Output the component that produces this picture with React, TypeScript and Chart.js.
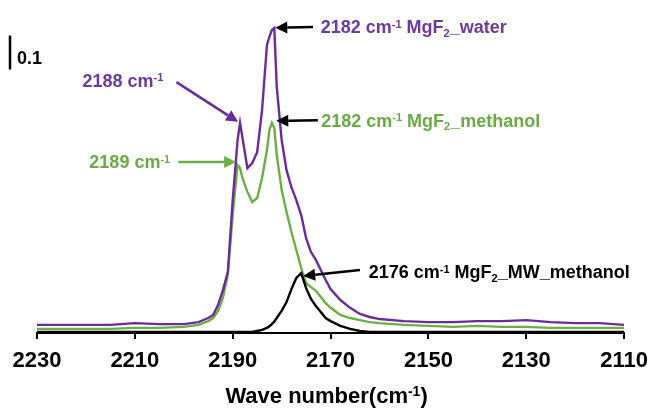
import { useEffect, useRef } from "react";
import { Chart, registerables } from "chart.js";

Chart.register(...registerables);

// ---------- data ----------
const waveNumbers = [
  2230, 2225, 2220, 2215, 2210, 2205, 2200, 2197, 2195, 2194, 2193, 2192, 2191, 2190,
  2189, 2188.5, 2188, 2187, 2186, 2185, 2184, 2183, 2182.5, 2182, 2181.5, 2181, 2180,
  2179, 2178, 2177, 2176, 2175, 2174, 2173, 2172, 2171, 2170, 2168, 2166, 2164, 2162,
  2160, 2155, 2150, 2145, 2140, 2135, 2130, 2125, 2120, 2115, 2110,
];

const mgf2Water = [
  0.024, 0.024, 0.024, 0.024, 0.029, 0.026, 0.026, 0.032, 0.044, 0.053, 0.082, 0.126, 0.179, 0.391,
  0.568, 0.618, 0.574, 0.485, 0.5, 0.532, 0.656, 0.847, 0.871, 0.891, 0.897, 0.724, 0.568,
  0.479, 0.429, 0.391, 0.347, 0.279, 0.238, 0.215, 0.185, 0.156, 0.129, 0.097, 0.074, 0.056, 0.047,
  0.041, 0.035, 0.032, 0.032, 0.035, 0.035, 0.038, 0.032, 0.029, 0.029, 0.024,
];

const mgf2Methanol = [
  0.012, 0.012, 0.012, 0.012, 0.015, 0.015, 0.018, 0.024, 0.035, 0.044, 0.065, 0.103, 0.171, 0.347,
  0.494, 0.485, 0.456, 0.415, 0.385, 0.397, 0.456, 0.538, 0.597, 0.618, 0.603, 0.524, 0.421,
  0.356, 0.297, 0.244, 0.191, 0.147, 0.135, 0.124, 0.106, 0.088, 0.074, 0.053, 0.044, 0.038, 0.032,
  0.029, 0.024, 0.021, 0.018, 0.021, 0.018, 0.018, 0.015, 0.015, 0.015, 0.015,
];

const mgf2MwMethanol = [
  0.003, 0.003, 0.003, 0.003, 0.003, 0.003, 0.003, 0.003, 0.003, 0.003, 0.003, 0.003, 0.003, 0.003,
  0.003, 0.003, 0.003, 0.003, 0.003, 0.006, 0.009, 0.015, 0.02, 0.026, 0.034, 0.044, 0.065,
  0.091, 0.129, 0.162, 0.176, 0.132, 0.1, 0.079, 0.062, 0.044, 0.035, 0.021, 0.012, 0.006, 0.003,
  0.003, 0.003, 0.003, 0.003, 0.003, 0.003, 0.003, 0.003, 0.003, 0.003, 0.003,
];

const xTicks = [2230, 2210, 2190, 2170, 2150, 2130, 2110];
const xMin = 2110;
const xMax = 2230;
const yMin = 0;
const yMax = 0.95;
const scaleBarBase = 0.775;
const scaleBarLength = 0.1;
const scaleBarLabel = "0.1";

// ---------- styles ----------
const FONT = '"Liberation Sans", Arial, Helvetica, sans-serif';
const PURPLE = "#6a2c9b";
const PURPLE_TEXT = "#6c3a9f";
const GREEN = "#6caf43";
const GREEN_TEXT = "#6aab46";
const BLACK = "#000000";

type Seg = { t: string; k?: "sup" | "sub" };

type Annotation = {
  segs: Seg[];
  textColor: string;
  arrowColor: string;
  tail: [number, number];
  tip: [number, number];
  text: [number, number];
};

const annotations: Annotation[] = [
  {
    segs: [{ t: "2182 cm" }, { t: "-1", k: "sup" }, { t: " MgF" }, { t: "2", k: "sub" }, { t: "_water" }],
    textColor: PURPLE_TEXT,
    arrowColor: BLACK,
    tail: [2173.6, 0.9],
    tip: [2181.3, 0.898],
    text: [2172.0, 0.9],
  },
  {
    segs: [{ t: "2182 cm" }, { t: "-1", k: "sup" }, { t: " MgF" }, { t: "2", k: "sub" }, { t: "_methanol" }],
    textColor: GREEN_TEXT,
    arrowColor: BLACK,
    tail: [2172.6, 0.626],
    tip: [2181.1, 0.624],
    text: [2171.9, 0.626],
  },
  {
    segs: [{ t: "2188 cm" }, { t: "-1", k: "sup" }],
    textColor: PURPLE_TEXT,
    arrowColor: PURPLE,
    tail: [2201.5, 0.738],
    tip: [2188.9, 0.621],
    text: [2220.7, 0.744],
  },
  {
    segs: [{ t: "2189 cm" }, { t: "-1", k: "sup" }],
    textColor: GREEN_TEXT,
    arrowColor: GREEN,
    tail: [2201.1, 0.503],
    tip: [2189.3, 0.503],
    text: [2219.3, 0.503],
  },
  {
    segs: [{ t: "2176 cm" }, { t: "-1", k: "sup" }, { t: " MgF" }, { t: "2", k: "sub" }, { t: "_MW_methanol" }],
    textColor: BLACK,
    arrowColor: BLACK,
    tail: [2164.0, 0.185],
    tip: [2175.6, 0.168],
    text: [2162.2, 0.18],
  },
];

const titleSegs: Seg[] = [{ t: "Wave number(cm" }, { t: "-1", k: "sup" }, { t: ")" }];

function drawRich(
  ctx: CanvasRenderingContext2D,
  segs: Seg[],
  x: number,
  yMid: number,
  size: number,
  color: string,
  align: "left" | "center" = "left"
) {
  const base = `bold ${size}px ${FONT}`;
  const small = `bold ${Math.round(size * 0.62)}px ${FONT}`;
  let w = 0;
  for (const s of segs) {
    ctx.font = s.k ? small : base;
    w += ctx.measureText(s.t).width;
  }
  let cx = align === "center" ? x - w / 2 : x;
  const baseline = yMid + size * 0.36;
  ctx.fillStyle = color;
  ctx.textBaseline = "alphabetic";
  ctx.textAlign = "left";
  for (const s of segs) {
    ctx.font = s.k ? small : base;
    const dy = s.k === "sup" ? -size * 0.32 : s.k === "sub" ? size * 0.2 : 0;
    ctx.fillText(s.t, cx, baseline + dy);
    cx += ctx.measureText(s.t).width;
  }
}

function drawArrow(
  ctx: CanvasRenderingContext2D,
  x1: number,
  y1: number,
  x2: number,
  y2: number,
  color: string
) {
  const ang = Math.atan2(y2 - y1, x2 - x1);
  const headLen = 12;
  const headHalf = 6;
  const bx = x2 - Math.cos(ang) * headLen;
  const by = y2 - Math.sin(ang) * headLen;
  ctx.save();
  ctx.strokeStyle = color;
  ctx.fillStyle = color;
  ctx.lineWidth = 2.5;
  ctx.beginPath();
  ctx.moveTo(x1, y1);
  ctx.lineTo(bx, by);
  ctx.stroke();
  ctx.beginPath();
  ctx.moveTo(x2, y2);
  ctx.lineTo(bx - Math.sin(ang) * headHalf, by + Math.cos(ang) * headHalf);
  ctx.lineTo(bx + Math.sin(ang) * headHalf, by - Math.cos(ang) * headHalf);
  ctx.closePath();
  ctx.fill();
  ctx.restore();
}

const annotationPlugin = {
  id: "spectrumAnnotations",
  afterDraw(chart: any) {
    const ctx: CanvasRenderingContext2D = chart.ctx;
    const xs = chart.scales.x;
    const ys = chart.scales.y;
    ctx.save();
    for (const a of annotations) {
      drawArrow(
        ctx,
        xs.getPixelForValue(a.tail[0]),
        ys.getPixelForValue(a.tail[1]),
        xs.getPixelForValue(a.tip[0]),
        ys.getPixelForValue(a.tip[1]),
        a.arrowColor
      );
      drawRich(ctx, a.segs, xs.getPixelForValue(a.text[0]), ys.getPixelForValue(a.text[1]), 18, a.textColor);
    }
    // scale bar
    const yb0 = ys.getPixelForValue(scaleBarBase);
    const yb1 = ys.getPixelForValue(scaleBarBase + scaleBarLength);
    ctx.strokeStyle = BLACK;
    ctx.lineWidth = 2.5;
    ctx.beginPath();
    ctx.moveTo(10, yb0);
    ctx.lineTo(10, yb1);
    ctx.stroke();
    drawRich(ctx, [{ t: scaleBarLabel }], 17, yb0 - 12, 18, BLACK);
    // axis title
    const ca = chart.chartArea;
    drawRich(ctx, titleSegs, (ca.left + ca.right) / 2 - 4, 395, 22, BLACK, "center");
    ctx.restore();
  },
};

export default function App() {
  const canvasRef = useRef<HTMLCanvasElement | null>(null);

  useEffect(() => {
    const canvas = canvasRef.current;
    if (!canvas) return;
    const toPoints = (ys: number[]) => waveNumbers.map((x, i) => ({ x, y: ys[i] }));
    const chart = new Chart(canvas, {
      type: "line",
      data: {
        datasets: [
          { label: "MgF2_MW_methanol", data: toPoints(mgf2MwMethanol), borderColor: BLACK },
          { label: "MgF2_water", data: toPoints(mgf2Water), borderColor: PURPLE },
          { label: "MgF2_methanol", data: toPoints(mgf2Methanol), borderColor: GREEN },
        ],
      },
      options: {
        animation: false,
        responsive: false,
        maintainAspectRatio: false,
        layout: { padding: { left: 37, right: 27, top: 10, bottom: 0 } },
        plugins: { legend: { display: false }, tooltip: { enabled: false } },
        elements: {
          point: { radius: 0 },
          line: { borderWidth: 2.4, tension: 0, fill: false },
        },
        scales: {
          x: {
            type: "linear",
            reverse: true,
            min: xMin,
            max: xMax,
            afterBuildTicks: (axis: any) => {
              axis.ticks = xTicks.map((v) => ({ value: v }));
            },
            afterFit: (axis: any) => {
              axis.height = 75;
            },
            grid: {
              display: true,
              drawOnChartArea: false,
              drawTicks: true,
              tickLength: 6,
              color: BLACK,
              lineWidth: 2,
            },
            border: { display: true, color: BLACK, width: 2 },
            ticks: {
              color: BLACK,
              font: { family: FONT, size: 22, weight: "bold" },
              padding: 9,
              maxRotation: 0,
              autoSkip: false,
              callback: (v: any) => String(v),
            },
          },
          y: { display: false, min: yMin, max: yMax },
        },
      },
      plugins: [annotationPlugin],
    } as any);
    return () => chart.destroy();
  }, []);

  return (
    <div style={{ position: "absolute", left: 0, top: 0, width: 657, height: 408, background: "#fff" }}>
      <canvas ref={canvasRef} width={657} height={408} />
    </div>
  );
}
